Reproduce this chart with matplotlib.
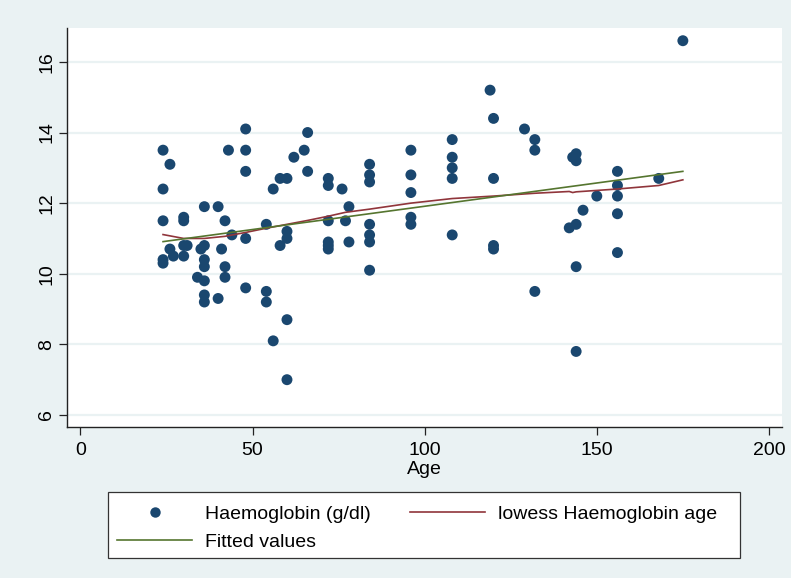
import matplotlib
matplotlib.use("Agg")
import matplotlib.pyplot as plt
from matplotlib.lines import Line2D
from matplotlib.patches import Rectangle

# ---- data ----
age = [24, 24, 24, 24, 24,
       26, 26, 27,
       30, 30, 30, 30, 31,
       34, 35,
       36, 36, 36, 36, 36, 36, 36,
       40, 40, 41,
       42, 42, 42, 43, 44,
       48, 48, 48, 48, 48,
       54, 54, 54, 56, 56, 58, 58,
       60, 60, 60, 60, 60,
       62, 65, 66, 66,
       72, 72, 72, 72, 72, 72,
       76, 77, 78, 78,
       84, 84, 84, 84, 84, 84, 84,
       96, 96, 96, 96, 96,
       108, 108, 108, 108, 108,
       119, 120, 120, 120, 120,
       129, 132, 132, 132,
       142, 143, 144, 144, 144, 144, 144, 146,
       150, 156, 156, 156, 156, 156,
       168, 175]
haemoglobin = [13.5, 12.4, 11.5, 10.4, 10.3,
               13.1, 10.7, 10.5,
               11.6, 11.5, 10.8, 10.5, 10.8,
               9.9, 10.7,
               11.9, 10.8, 10.4, 10.2, 9.8, 9.4, 9.2,
               11.9, 9.3, 10.7,
               11.5, 10.2, 9.9, 13.5, 11.1,
               14.1, 13.5, 12.9, 11.0, 9.6,
               11.4, 9.5, 9.2, 12.4, 8.1, 12.7, 10.8,
               12.7, 11.2, 11.0, 8.7, 7.0,
               13.3, 13.5, 14.0, 12.9,
               12.7, 12.5, 11.5, 10.9, 10.8, 10.7,
               12.4, 11.5, 11.9, 10.9,
               13.1, 12.8, 12.6, 11.4, 11.1, 10.9, 10.1,
               13.5, 12.8, 12.3, 11.6, 11.4,
               13.8, 13.3, 13.0, 12.7, 11.1,
               15.2, 14.4, 12.7, 10.8, 10.7,
               14.1, 13.8, 13.5, 9.5,
               11.3, 13.3, 13.4, 13.2, 11.4, 10.2, 7.8, 11.8,
               12.2, 12.9, 12.5, 12.2, 11.7, 10.6,
               12.7, 16.6]

lowess_age = [24, 30, 36, 42, 48, 54, 60, 66, 72, 77, 84, 96, 108, 120, 132,
              142, 143, 144, 150, 156, 168, 175]
lowess_val = [11.11, 11.0, 11.0, 11.06, 11.17, 11.29, 11.4, 11.51, 11.63, 11.74,
              11.83, 12.0, 12.13, 12.2, 12.28, 12.33, 12.30, 12.32, 12.36, 12.40,
              12.5, 12.66]

fit_age = [24, 175]
fit_val = [10.91, 12.90]

x_ticks = [0, 50, 100, 150, 200]
y_ticks = [6, 8, 10, 12, 14, 16]

legend_labels = ["Haemoglobin (g/dl)", "lowess Haemoglobin age", "Fitted values"]

# ---- style ----
BG = "#EAF2F3"
NAVY = "#1A476F"
MAROON = "#90353B"
GREEN = "#55752F"
FONT = ["Liberation Sans", "DejaVu Sans"]
plt.rcParams["font.family"] = FONT

W, H = 791, 578
fig = plt.figure(figsize=(W / 100, H / 100), dpi=100, facecolor=BG)
ax = fig.add_axes([67 / W, 1 - 427 / H, (782 - 67) / W, (427 - 28) / H])
ax.set_facecolor("white")

ax.set_xlim(-3.9, 203.8)
ax.set_ylim(5.66, 16.96)

for yt in y_ticks:
    ax.axhline(yt, color=BG, lw=1.6, zorder=0)

ax.scatter(age, haemoglobin, s=62, color=NAVY, edgecolors="none", zorder=3)
ax.plot(lowess_age, lowess_val, color=MAROON, lw=1.2, zorder=4)
ax.plot(fit_age, fit_val, color=GREEN, lw=1.2, zorder=4)

ax.set_xticks(x_ticks)
ax.set_yticks(y_ticks)
ax.set_xticklabels([str(v) for v in x_ticks])
ax.set_yticklabels([str(v) for v in y_ticks], rotation=90, va="center")
ax.tick_params(axis="both", direction="out", length=5.5, width=0.9,
               color="#222222", labelsize=14, pad=5)
ax.tick_params(axis="y", pad=3)
ax.set_xlabel("Age", fontsize=14, labelpad=2)

for side in ["top", "right"]:
    ax.spines[side].set_visible(False)
for side in ["left", "bottom"]:
    ax.spines[side].set_color("#222222")
    ax.spines[side].set_linewidth(1.0)

# legend box
fig.patches.append(Rectangle((108 / W, 1 - 558 / H), (740 - 108) / W, (558 - 492) / H,
                             transform=fig.transFigure, facecolor="white",
                             edgecolor="#333333", linewidth=0.9, zorder=1))

h_pts = Line2D([], [], marker="o", linestyle="none", color=NAVY, markersize=7.5,
               markeredgewidth=0)
h_low = Line2D([], [], color=MAROON, lw=1.2)
h_fit = Line2D([], [], color=GREEN, lw=1.2)

leg = fig.legend([h_pts, h_fit, h_low],
                 [legend_labels[0], legend_labels[2], legend_labels[1]],
                 ncol=2, loc="upper left",
                 bbox_to_anchor=(104 / W, 1 - 492 / H),
                 fontsize=14, frameon=False,
                 handlelength=3.85, handletextpad=0.65, labelspacing=0.55,
                 borderpad=0.68, borderaxespad=0, columnspacing=2.05)
leg.set_zorder(5)

fig.savefig("out.png", dpi=100, facecolor=BG)
